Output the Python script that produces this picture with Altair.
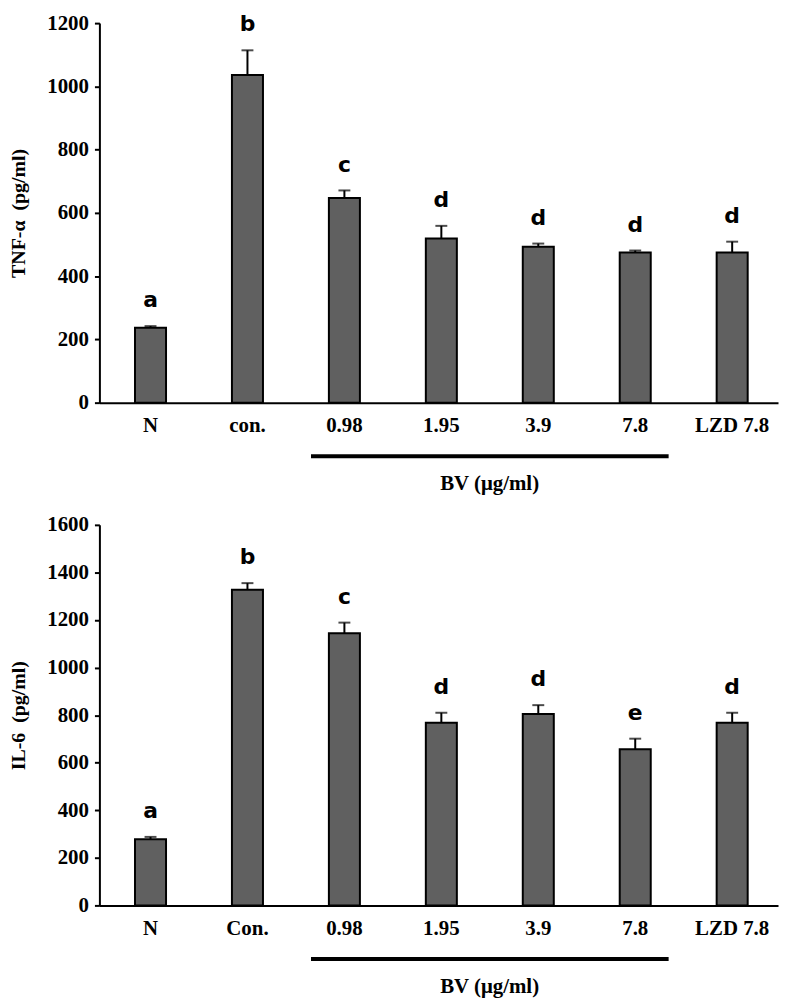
import altair as alt
import pandas as pd

# ---- data ----
top_categories = ["N", "con.", "0.98", "1.95", "3.9", "7.8", "LZD 7.8"]
top_means = [237, 1036, 647, 519, 493, 475, 475]
top_upper = [242, 1114, 671, 559, 503, 481, 509]
top_letters = ["a", "b", "c", "d", "d", "d", "d"]
top_ticks = [0, 200, 400, 600, 800, 1000, 1200]

bottom_categories = ["N", "Con.", "0.98", "1.95", "3.9", "7.8", "LZD 7.8"]
bottom_means = [278, 1327, 1144, 768, 805, 657, 768]
bottom_upper = [288, 1355, 1189, 810, 842, 701, 810]
bottom_letters = ["a", "b", "c", "d", "d", "e", "d"]
bottom_ticks = [0, 200, 400, 600, 800, 1000, 1200, 1400, 1600]

bv_start = "0.98"
bv_end = "7.8"
bv_mid = "1.95"
bv_label = "BV (μg/ml)"

top_title = "TNF-α \u00a0(pg/ml)"
bottom_title = "IL-6 \u00a0(pg/ml)"

SERIF = "Liberation Serif"
SANS = "DejaVu Sans"
W = 683


def panel(cats, means, upper, letters, ticks, ytitle, height):
    df = pd.DataFrame({"cat": cats, "mean": means, "upper": upper, "letter": letters})
    ann = pd.DataFrame({"start": [bv_start], "end": [bv_end], "mid": [bv_mid], "label": [bv_label]})

    xs = alt.Scale(domain=cats, paddingInner=0.68, paddingOuter=0.34, align=0.54)
    xaxis = alt.Axis(
        title=None, labelAngle=0, ticks=False, domainColor="black", domainWidth=2,
        labelFont=SERIF, labelFontWeight="bold", labelFontSize=21, labelColor="black",
        labelPadding=12,
    )
    ys = alt.Scale(domain=[ticks[0], ticks[-1]], nice=False)
    yaxis = alt.Axis(
        title=ytitle, values=ticks, format="d", grid=False,
        domainColor="black", domainWidth=2, tickColor="black", tickWidth=2, tickSize=5,
        labelFont=SERIF, labelFontWeight="bold", labelFontSize=21, labelColor="black",
        labelPadding=6, titleFont=SERIF, titleFontWeight="bold", titleFontSize=20,
        titleColor="black", titlePadding=18,
    )

    base = alt.Chart(df)
    bars = base.mark_bar(fill="#606060", stroke="black", strokeWidth=2).encode(
        x=alt.X("cat:N", scale=xs, sort=cats, axis=xaxis),
        y=alt.Y("mean:Q", scale=ys, axis=yaxis),
    )
    err = base.mark_rule(color="black", strokeWidth=2).encode(
        x=alt.X("cat:N", sort=cats, title=None),
        y=alt.Y("mean:Q", title=ytitle),
        y2="upper:Q",
    )
    caps = base.mark_tick(color="black", size=12, thickness=2).encode(
        x=alt.X("cat:N", sort=cats, title=None),
        y=alt.Y("upper:Q", title=ytitle),
    )
    letters_layer = base.mark_text(
        font=SANS, fontWeight="bold", fontSize=22, dy=-19, baseline="alphabetic", color="black"
    ).encode(
        x=alt.X("cat:N", sort=cats, title=None),
        y=alt.Y("upper:Q", title=ytitle),
        text="letter:N",
    )
    bracket = alt.Chart(ann).mark_rule(
        color="black", strokeWidth=4, xOffset=-18, x2Offset=18
    ).encode(
        x=alt.X("start:N", bandPosition=0, title=None),
        x2=alt.X2("end:N", bandPosition=1, title=None),
        y=alt.value(height + 54),
    )
    bv_text = alt.Chart(ann).mark_text(
        font=SERIF, fontWeight="bold", fontSize=21, baseline="middle", color="black", xOffset=33
    ).encode(
        x=alt.X("mid:N", bandPosition=1, title=None),
        y=alt.value(height + 82),
        text="label:N",
    )
    return alt.layer(bars, err, caps, letters_layer, bracket, bv_text).properties(
        width=W, height=height
    )


top = panel(top_categories, top_means, top_upper, top_letters, top_ticks, top_title, 382)
bottom = panel(bottom_categories, bottom_means, bottom_upper, bottom_letters, bottom_ticks, bottom_title, 383)

chart = (
    alt.vconcat(top, bottom, spacing=123, bounds="flush")
    .resolve_scale(x="independent", y="independent")
    .properties(padding={"left": 0, "top": 0, "right": 0, "bottom": 0}, background="white")
    .configure_view(stroke="transparent")
)

chart.save("out.html", embed_options={"renderer": "svg", "actions": False})
